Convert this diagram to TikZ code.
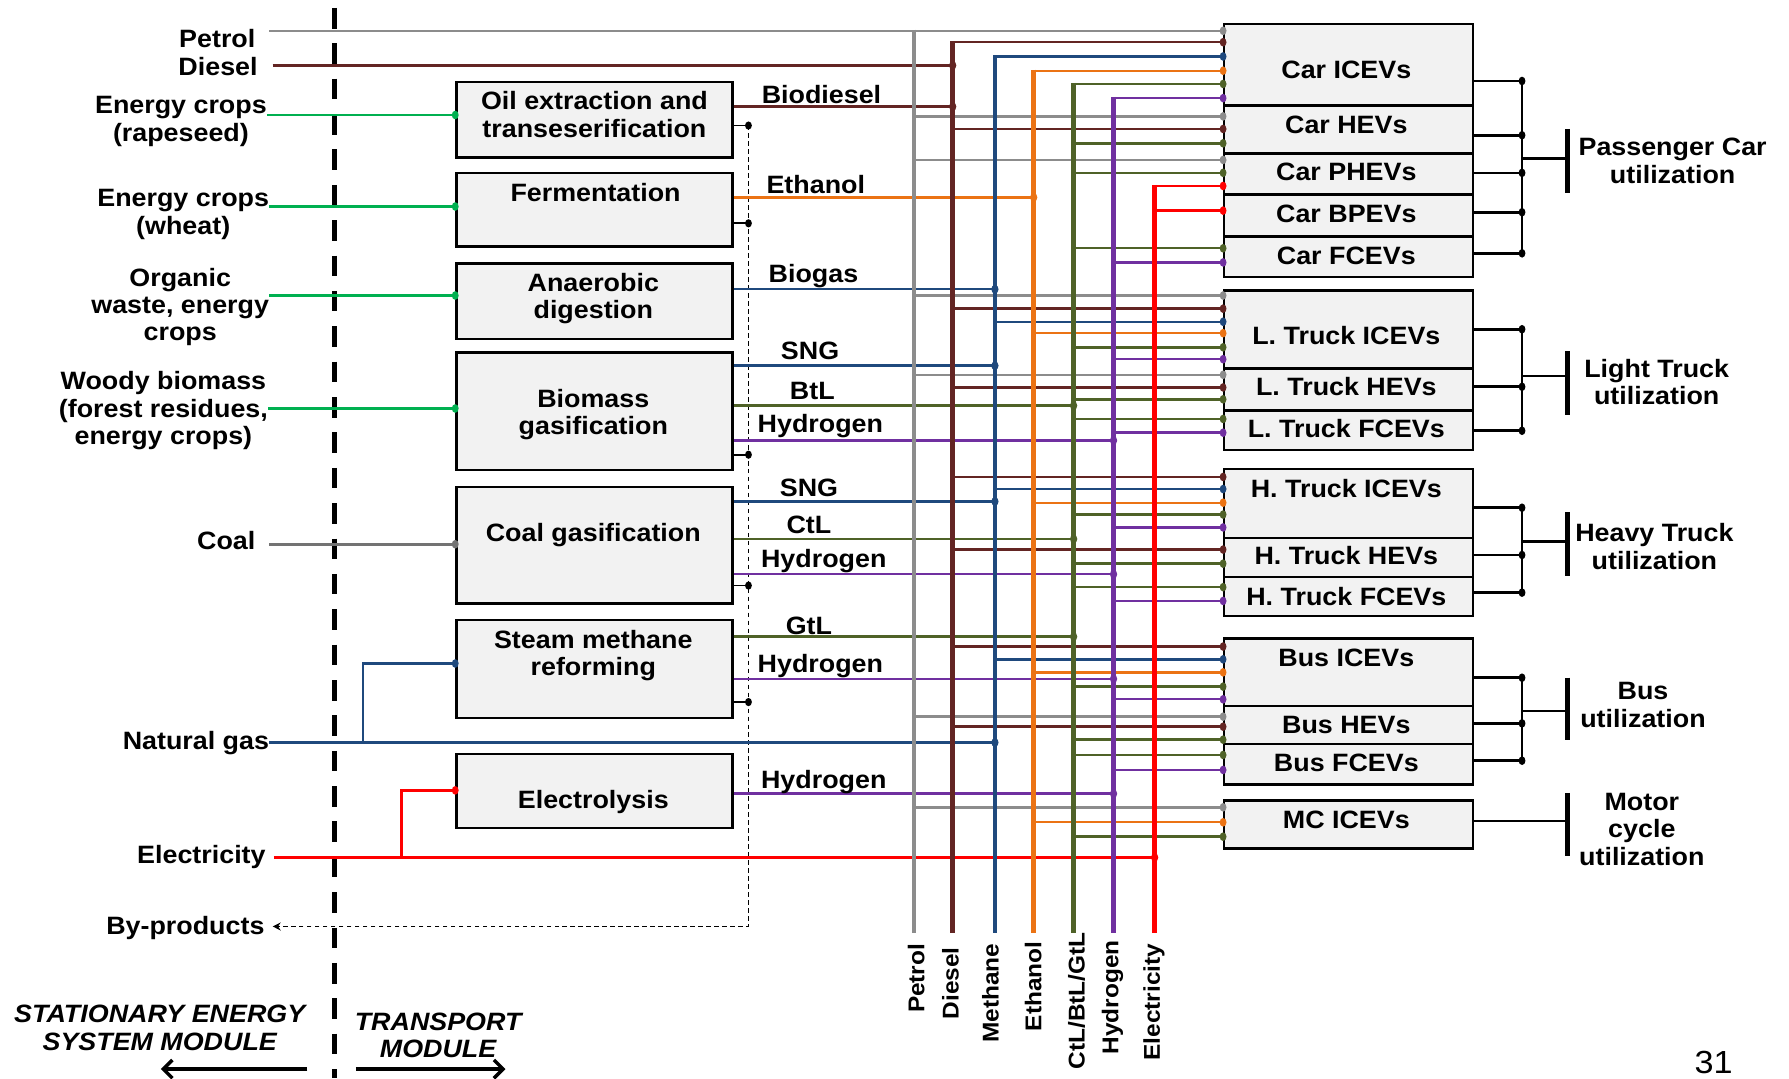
\documentclass[tikz,border=0pt]{standalone}
\usepackage{fontspec}
\setmainfont{Liberation Sans}[FakeStretch=1.07]
\usetikzlibrary{arrows.meta}
\definecolor{cP}{RGB}{140,140,140}
\definecolor{cD}{RGB}{99,37,35}
\definecolor{cM}{RGB}{31,73,125}
\definecolor{cE}{RGB}{235,115,20}
\definecolor{cC}{RGB}{79,98,40}
\definecolor{cH}{RGB}{112,48,160}
\definecolor{cL}{RGB}{255,0,0}
\definecolor{cG}{RGB}{0,176,80}
\definecolor{cCoal}{RGB}{115,115,115}
\definecolor{boxfill}{RGB}{242,242,242}
\begin{document}
\begin{tikzpicture}[x=1pt,y=-1pt,
 font=\fontsize{22}{24}\selectfont\bfseries,
 tx/.style={inner sep=0pt, text height=15.7pt, text depth=0pt},
 vtx/.style={inner sep=0pt, text height=14.3pt, text depth=0pt, rotate=90, anchor=east, font=\fontsize{20}{24}\selectfont\bfseries},
 ml/.style={inner sep=0pt, align=center},
 pbox/.style={draw=black, line width=2pt, fill=boxfill, inner sep=0pt, anchor=north west, minimum width=242pt},
 vbox/.style={draw=black, line width=2pt, fill=boxfill, inner sep=0pt, anchor=north west, minimum width=218pt},
 fl/.style={line width=2.1pt},
 busl/.style={line width=4pt},
 inl/.style={line width=2.4pt},
 brk/.style={line width=2.3pt, black},
 barl/.style={line width=4pt, black},
 byl/.style={line width=1.6pt, black},
]
\path[use as bounding box, fill=white] (0,0) rectangle (1568,945);

% separator
\draw[line width=4pt, dash pattern=on 18pt off 13pt] (293,7) -- (293,945);

% process boxes
\node[pbox, minimum height=66pt] (oil) at (399,71) {};
\node[pbox, minimum height=64.5pt] (ferm) at (399,150.5) {};
\node[pbox, minimum height=66pt] (anae) at (399,230) {};
\node[pbox, minimum height=103pt] (biom) at (399,308) {};
\node[pbox, minimum height=102pt] (coal) at (399,426) {};
\node[pbox, minimum height=85.5pt] (smr) at (399,542.5) {};
\node[pbox, minimum height=65pt] (elys) at (399,660) {};

% vehicle boxes
\node[vbox, minimum height=71.4pt] (carice) at (1072,20) {};
\node[vbox, minimum height=42.1pt] (carhev) at (1072,91.4) {};
\node[vbox, minimum height=35.9pt] (carphev) at (1072,133.5) {};
\node[vbox, minimum height=36.8pt] (carbpev) at (1072,169.4) {};
\node[vbox, minimum height=35.8pt] (carfcev) at (1072,206.2) {};
\node[vbox, minimum height=68.4pt] (ltice) at (1072,253.6) {};
\node[vbox, minimum height=36.8pt] (lthev) at (1072,322) {};
\node[vbox, minimum height=34.7pt] (ltfcev) at (1072,358.8) {};
\node[vbox, minimum height=60.3pt] (htice) at (1072,410) {};
\node[vbox, minimum height=34.5pt] (hthev) at (1072,470.3) {};
\node[vbox, minimum height=34.2pt] (htfcev) at (1072,504.8) {};
\node[vbox, minimum height=59.4pt] (busice) at (1072,558.6) {};
\node[vbox, minimum height=33pt] (bushev) at (1072,618) {};
\node[vbox, minimum height=35.6pt] (busfcev) at (1072,651) {};
\node[vbox, minimum height=42pt] (mcice) at (1072,700.6) {};

% left labels
\node[tx, anchor=east] (lPetrol) at (224,34) {Petrol};
\node[tx, anchor=east] (lDiesel) at (226,58) {Diesel};
\node[ml, anchor=east] (lRape) at (234,106.5) {Energy crops\\(rapeseed)};
\node[ml, anchor=east] (lWheat) at (236,188) {Energy crops\\(wheat)};
\node[ml, anchor=east] (lOrg) at (236,269) {Organic\\waste, energy\\crops};
\node[ml, anchor=east] (lWood) at (235,360) {Woody biomass\\(forest residues,\\energy crops)};
\node[tx, anchor=east] (lCoal) at (224,474) {Coal};
\node[tx, anchor=east] (lNG) at (236,649) {Natural gas};
\node[tx, anchor=east] (lEl) at (233,749) {Electricity};
\node[tx, anchor=east] (lByp) at (232,811) {By-products};

% inputs to process boxes
\draw[inl,cG] (lRape.east|-0,100.8) -- (oil.west|-0,100.8);
\draw[inl,cG] (lWheat.east|-0,181) -- (ferm.west|-0,181);
\draw[inl,cG] (lOrg.east|-0,259) -- (anae.west|-0,259);
\draw[inl,cG] (lWood.east|-0,358) -- (biom.west|-0,358);
\draw[inl,cCoal] ([xshift=12pt]lCoal.east|-0,477) -- (coal.west|-0,477);
\draw[fl,cM] (318,650.8) -- (318,581.5) -- (smr.west|-0,581.5);
\draw[fl,cL] (352,751.5) -- (352,692.7) -- (elys.west|-0,692.7);
\foreach \nm/\yy/\cc in {oil/100.8/cG, ferm/181/cG, anae/259/cG, biom/358/cG, coal/477/cCoal, smr/581.5/cM, elys/692.7/cL}
  \fill[\cc] (\nm.west|-0,\yy) ellipse (3pt and 3.8pt);

% by-products
\foreach \nm/\yy in {oil/110, ferm/195.7, biom/398.5, coal/513.2, smr/615.3}{
  \draw[byl] (\nm.east|-0,\yy) -- (656,\yy);
  \fill (656,\yy) ellipse (3pt and 3.6pt);
}
\draw[line width=1.5pt, dash pattern=on 4pt off 3pt, -{Stealth[length=7pt,width=7pt]}] (656,110) -- (656,812) -- ([xshift=7pt]lByp.east|-0,812);

% petrol input line
\draw[fl,cP] ([xshift=12pt]lPetrol.east|-0,27) -- (carice.west|-0,27);

% feeds from buses to vehicle boxes
\def\feedlist{835/37/cD/carice, 872/49.5/cM/carice, 906/62/cE/carice, 941/73.6/cC/carice, 976/86/cH/carice,
 801/102/cP/carhev, 835/113/cD/carhev, 941/125.6/cC/carhev,
 801/140.2/cP/carphev, 941/151.5/cC/carphev, 1012/163/cL/carphev,
 1012/184.6/cL/carbpev,
 941/217.6/cC/carfcev, 976/230/cH/carfcev,
 801/259/cP/ltice, 835/270.5/cD/ltice, 872/282/cM/ltice, 906/292/cE/ltice, 941/304.4/cC/ltice, 976/314.8/cH/ltice,
 801/328.5/cP/lthev, 835/339.6/cD/lthev, 941/350/cC/lthev,
 941/367.2/cC/ltfcev, 976/379.2/cH/ltfcev,
 835/418/cD/htice, 872/428.6/cM/htice, 906/440.6/cE/htice, 941/451/cC/htice, 976/462.3/cH/htice,
 835/481.7/cD/hthev, 941/494/cC/hthev,
 941/514.6/cC/htfcev, 976/526.7/cH/htfcev,
 835/566.7/cD/busice, 872/577.9/cM/busice, 906/589.3/cE/busice, 941/601.8/cC/busice, 976/612.9/cH/busice,
 801/628.1/cP/bushev, 835/636.9/cD/bushev, 941/648.3/cC/bushev,
 941/661.7/cC/busfcev, 976/674.8/cH/busfcev,
 801/707.6/cP/mcice, 906/720.7/cE/mcice, 941/733.3/cC/mcice}
\foreach \bxx/\yy/\cc/\nm in \feedlist
  \draw[fl,\cc] (\bxx,\yy) -- (\nm.west|-0,\yy);

% outputs from process boxes to buses
\def\outlist{oil/93.5/cD/835, ferm/173/cE/906, anae/253.5/cM/872,
 biom/320.5/cM/872, biom/355.5/cC/941, biom/386/cH/976,
 coal/439.5/cM/872, coal/472.4/cC/941, coal/503.3/cH/976,
 smr/558/cC/941, smr/595/cH/976, elys/695.6/cH/976}
\foreach \nm/\yy/\cc/\bxx in \outlist
  \draw[fl,\cc] (\nm.east|-0,\yy) -- (\bxx,\yy);
\draw[fl,cD] ([xshift=13pt]lDiesel.east|-0,57.3) -- (835,57.3);
\draw[fl,cM] (lNG.east|-0,650.8) -- (872,650.8);
\draw[fl,cL] ([xshift=7pt]lEl.east|-0,751.5) -- (1012,751.5);

% buses
\coordinate (bP) at (801,818);
\coordinate (bD) at (835,818);
\coordinate (bM) at (872,818);
\coordinate (bE) at (906,818);
\coordinate (bC) at (941,818);
\coordinate (bH) at (976,818);
\coordinate (bL) at (1012,818);
\draw[busl,cP] (bP|-0,26) -- (bP);
\draw[busl,cD] (bD|-0,36) -- (bD);
\draw[busl,cM] (bM|-0,48.5) -- (bM);
\draw[busl,cE] (bE|-0,61) -- (bE);
\draw[busl,cC] (bC|-0,72.6) -- (bC);
\draw[busl,cH] (bH|-0,85) -- (bH);
\draw[busl,cL] (bL|-0,162) -- (bL);

% dots
\foreach \bxx/\yy/\cc/\nm in \feedlist
  \fill[\cc] (\nm.west|-0,\yy) ellipse (3pt and 3.8pt);
\fill[cP] (carice.west|-0,27) ellipse (3pt and 3.8pt);
\foreach \nm/\yy/\cc/\bxx in \outlist
  \fill[\cc] (\bxx,\yy) ellipse (3.2pt and 3.8pt);
\fill[cD] (835,57.3) ellipse (3.2pt and 3.8pt);
\fill[cM] (872,650.8) ellipse (3.2pt and 3.8pt);
\fill[cL] (1012,751.5) ellipse (3.2pt and 3.8pt);

% bus labels
\node[vtx] (tP) at (803,827) {Petrol};
\node[vtx] (tD) at (833,830) {Diesel};
\node[vtx] (tM) at (868,827) {Methane};
\node[vtx] (tE) at (905.5,825) {Ethanol};
\node[vtx] (tC) at (943.5,817) {CtL/BtL/GtL};
\node[vtx] (tH) at (973,824) {Hydrogen};
\node[vtx] (tL) at (1009.5,827) {Electricity};

% output labels
\node[tx] (oBiod) at (720,83) {Biodiesel};
\node[tx] (oEth) at (715,162) {Ethanol};
\node[tx] (oBiog) at (713,240) {Biogas};
\node[tx] (oSng1) at (710,307) {SNG};
\node[tx] (oBtl) at (712,342) {BtL};
\node[tx] (oH1) at (719,371) {Hydrogen};
\node[tx] (oSng2) at (709,427) {SNG};
\node[tx] (oCtl) at (709,460) {CtL};
\node[tx] (oH2) at (722,489.5) {Hydrogen};
\node[tx] (oGtl) at (709,548) {GtL};
\node[tx] (oH3) at (719,581.5) {Hydrogen};
\node[tx] (oH4) at (722,683) {Hydrogen};

% process texts
\node[ml] (tOil) at (521,100.5) {Oil extraction and\\transeserification};
\node[tx] (tFerm) at (522,168.6) {Fermentation};
\node[ml] (tAnae) at (520,261.5) {Anaerobic\\digestion};
\node[ml] (tBiom) at (520,363.5) {Biomass\\gasification};
\node[tx] (tCoal) at (520,466.4) {Coal gasification};
\node[ml] (tSmr) at (520,574.7) {Steam methane\\reforming};
\node[tx] (tElys) at (520,700.8) {Electrolysis};

% vehicle texts
\node[tx] (vt1) at (1180,61) {Car ICEVs};
\node[tx] (vt2) at (1180,109) {Car HEVs};
\node[tx] (vt3) at (1180,150) {Car PHEVs};
\node[tx] (vt4) at (1180,187) {Car BPEVs};
\node[tx] (vt5) at (1180,224) {Car FCEVs};
\node[tx] (vt6) at (1180,294) {L. Truck ICEVs};
\node[tx] (vt7) at (1180,339) {L. Truck HEVs};
\node[tx] (vt8) at (1180,376) {L. Truck FCEVs};
\node[tx] (vt9) at (1180,428) {H. Truck ICEVs};
\node[tx] (vt10) at (1180,487) {H. Truck HEVs};
\node[tx] (vt11) at (1180,523) {H. Truck FCEVs};
\node[tx] (vt12) at (1180,576) {Bus ICEVs};
\node[tx] (vt13) at (1180,635) {Bus HEVs};
\node[tx] (vt14) at (1180,668) {Bus FCEVs};
\node[tx] (vt15) at (1180,718) {MC ICEVs};

% brackets
\foreach \nm/\yy in {carice/71, carhev/118.5, carphev/151.5, carbpev/186, carfcev/222,
  ltice/288.6, lthev/339, ltfcev/377.5, htice/445, hthev/486.4, htfcev/519.4,
  busice/594, bushev/634, busfcev/666.7}{
  \draw[brk] (\nm.east|-0,\yy) -- (1334,\yy);
  \fill (1334,\yy) ellipse (3pt and 3.8pt);
}
\draw[brk] (1334,71) -- (1334,222) (1334,139) -- (1374,139);
\draw[brk] (1334,288.6) -- (1334,377.5) (1334,329.5) -- (1374,329.5);
\draw[brk] (1334,445) -- (1334,519.4) (1334,474.7) -- (1374,474.7);
\draw[brk] (1334,594) -- (1334,666.7) (1334,623) -- (1374,623);
\draw[brk] (mcice.east|-0,719.6) -- (1374,719.6);
\draw[barl] (1374,113) -- (1374,169);
\draw[barl] (1374,308) -- (1374,364);
\draw[barl] (1374,449) -- (1374,505);
\draw[barl] (1374,594) -- (1374,649);
\draw[barl] (1374,695) -- (1374,750);

% right labels
\node[ml] (rPC) at (1466,141) {Passenger Car\\utilization};
\node[ml] (rLT) at (1452,335) {Light Truck\\utilization};
\node[ml] (rHT) at (1450,479) {Heavy Truck\\utilization};
\node[ml] (rBus) at (1440,618) {Bus\\utilization};
\node[ml] (rMC) at (1439,727) {Motor\\cycle\\utilization};

% module labels
\node[ml, font=\fontsize{22}{24}\selectfont\bfseries\itshape] (mS) at (140,901) {STATIONARY ENERGY\\SYSTEM MODULE};
\node[ml, font=\fontsize{22}{24}\selectfont\bfseries\itshape] (mT) at (384,907.7) {TRANSPORT\\MODULE};
\coordinate (aSa) at (269.5,937);
\coordinate (aSb) at (141,937);
\coordinate (aTa) at (312,937);
\coordinate (aTb) at (443,937);
\draw[line width=3pt, -{Straight Barb[length=8pt,width=16pt]}] (aSa) -- (aSb);
\draw[line width=3pt, -{Straight Barb[length=8pt,width=16pt]}] (aTa) -- (aTb);

% page number
\node[anchor=base, inner sep=0pt, font=\fontsize{28}{28}\selectfont] (pg) at (1502,941) {31};
\end{tikzpicture}
\end{document}
